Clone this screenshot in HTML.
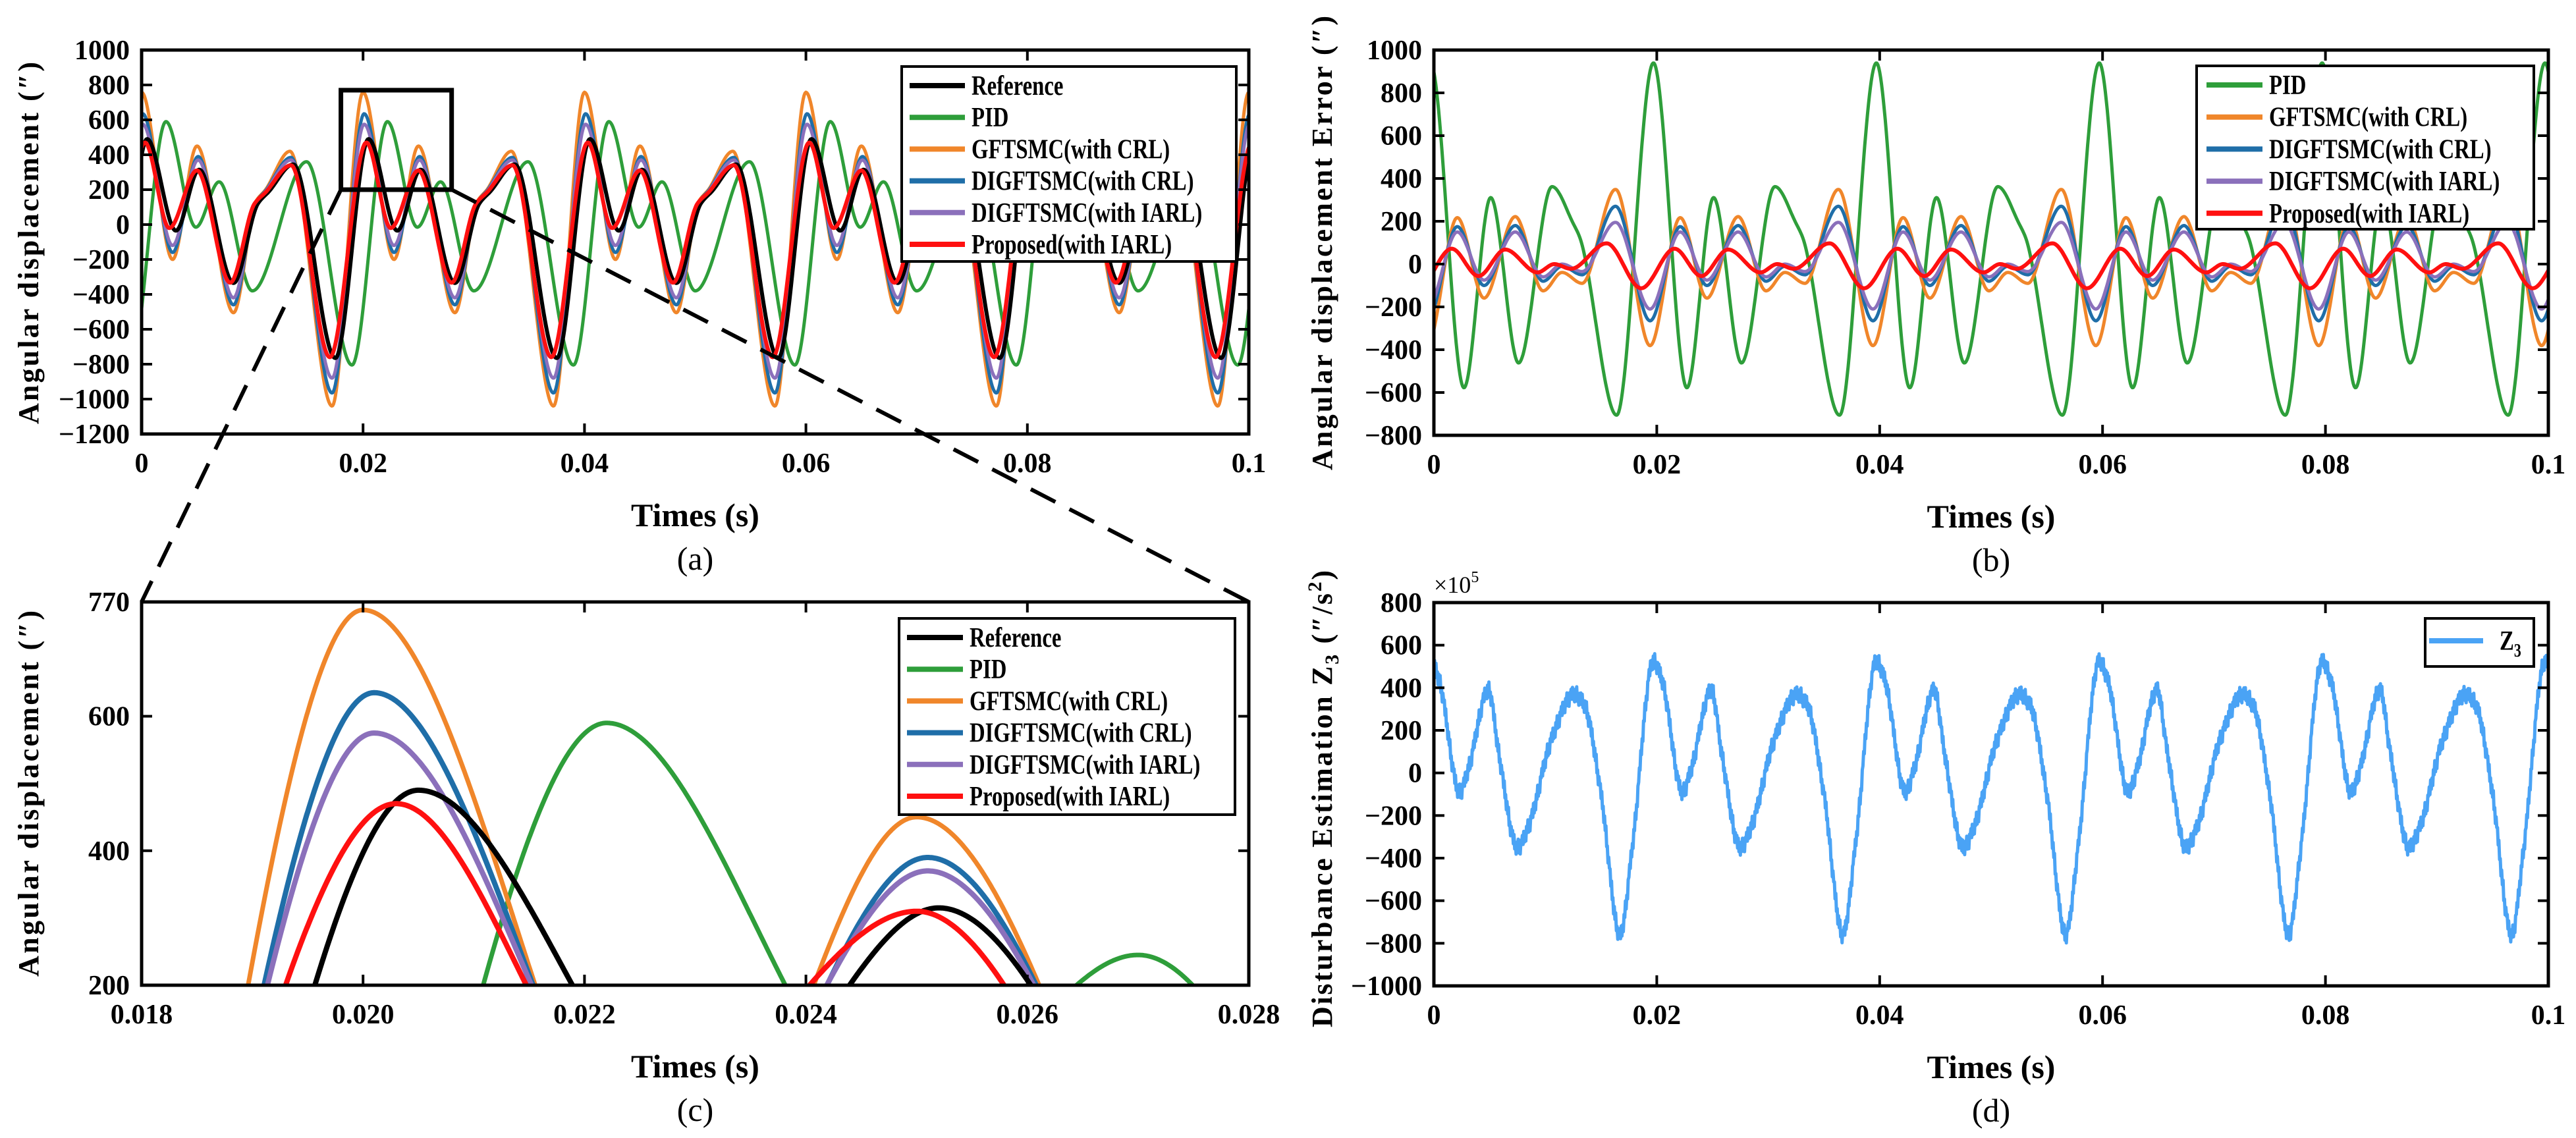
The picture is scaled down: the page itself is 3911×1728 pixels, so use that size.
<!DOCTYPE html>
<html><head><meta charset="utf-8"><style>
html,body{margin:0;padding:0;background:#fff;width:3911px;height:1728px;overflow:hidden;}
svg{display:block;}
text{font-family:"Liberation Serif",serif;}
</style></head><body>
<svg id="fig" width="3911" height="1728" viewBox="0 0 3911 1728" xmlns="http://www.w3.org/2000/svg">
<rect width="3911" height="1728" fill="#fff"/>
</svg>
<script>
// ---------- data (one period of 0.02 s, knots) ----------
const periods = [-0.04,-0.02,0,0.02,0.04,0.06,0.08,0.1,0.12];
// panel (a)/(c) angular displacement
const refT = [0.0005,0.0031,0.0052,0.0083,0.0105,0.0115,0.0137,0.0175];
const refV = [490,-35,315,-335,120,190,345,-765];
const pidT = [0.0022,0.0049,0.0070,0.0100,0.0149,0.0190];
const pidV = [590,-15,245,-380,360,-805];
const gftT = [0.0000,0.0028,0.0050,0.0083,0.0103,0.0112,0.0134,0.0172];
const gftV = [758,-200,450,-505,130,200,420,-1040];
const digT = [0.0001,0.0028,0.0051,0.0083,0.0103,0.0112,0.0135,0.0172];
const digV = [635,-160,390,-460,125,195,385,-965];
const diaT = [0.0001,0.0028,0.0051,0.0083,0.0103,0.0112,0.0135,0.0172];
const diaV = [575,-120,370,-420,120,190,370,-880];
const proT = [0.0003,0.0025,0.0050,0.0080,0.0102,0.0112,0.0135,0.0170];
const proV = [470,-20,310,-333,120,185,340,-760];
// panel (b) errors
const ePidT = [0.0027,0.0051,0.0076,0.0106,0.0125,0.0131,0.0164,0.0197];
const ePidV = [-578,311,-462,362,190,123,-706,940];
const eGftT = [0.0021,0.0045,0.0073,0.0098,0.0115,0.0133,0.0163,0.0194];
const eGftV = [217,-159,222,-125,-39,-90,349,-381];
const eDigT = [0.0021,0.0045,0.0073,0.0098,0.0115,0.0133,0.0163,0.0194];
const eDigV = [175,-100,180,-80,-10,-50,270,-265];
const eDiaT = [0.0021,0.0045,0.0073,0.0098,0.0115,0.0133,0.0163,0.0194];
const eDiaV = [150,-75,150,-60,0,-35,195,-210];
const eProT = [0.0016,0.0040,0.0064,0.0093,0.0108,0.0123,0.0155,0.0186];
const eProV = [72,-56,68,-39,0,-22,97,-113];
// panel (d) disturbance estimate (x1e5)
const zT = [0.0005,0.0023,0.0031,0.0049,0.0058,0.0075,0.0085,0.0105,0.0126,0.0135,0.0150,0.0167,0.0178,0.0197];
const zV = [430,-90,20,390,100,-350,-250,150,370,320,-100,-760,-350,525];
const zRipple = [0,30,-20,34,-24,14,-36,24,-14,38,-28,8,-40,20];
// ticks
const xTicksMain = [0,0.02,0.04,0.06,0.08,0.1];
const xTickLabelsMain = ["0","0.02","0.04","0.06","0.08","0.1"];
const yTicksA = [1000,800,600,400,200,0,-200,-400,-600,-800,-1000,-1200];
const yTicksB = [1000,800,600,400,200,0,-200,-400,-600,-800];
const yTicksD = [800,600,400,200,0,-200,-400,-600,-800,-1000];
const xTicksC = [0.018,0.020,0.022,0.024,0.026,0.028];
const xTickLabelsC = ["0.018","0.020","0.022","0.024","0.026","0.028"];
const yTicksC = [200,400,600,770];

// ---------- helpers ----------
const NS = "http://www.w3.org/2000/svg";
const svg = document.getElementById("fig");
function el(tag, attrs, parent){
  const e = document.createElementNS(NS, tag);
  for (const k in attrs) e.setAttribute(k, attrs[k]);
  (parent||svg).appendChild(e); return e;
}
function expand(ts, vs){
  const pts = [];
  periods.forEach(p => ts.forEach((t,i) => pts.push([t+p, vs[i]])));
  pts.sort((a,b)=>a[0]-b[0]);
  return pts;
}
function pchip(pts){
  const n = pts.length, d = new Array(n).fill(0);
  const h = [], s = [];
  for (let i=0;i<n-1;i++){ h[i]=pts[i+1][0]-pts[i][0]; s[i]=(pts[i+1][1]-pts[i][1])/h[i]; }
  for (let i=1;i<n-1;i++){
    if (s[i-1]*s[i] <= 0) d[i]=0;
    else { const w1=2*h[i]+h[i-1], w2=h[i]+2*h[i-1]; d[i]=(w1+w2)/(w1/s[i-1]+w2/s[i]); }
  }
  return function(t){
    let i=0; while(i<n-2 && pts[i+1][0]<t) i++;
    const x0=pts[i][0], hh=h[i], u=(t-x0)/hh;
    const h00=2*u*u*u-3*u*u+1, h10=u*u*u-2*u*u+u, h01=-2*u*u*u+3*u*u, h11=u*u*u-u*u;
    return h00*pts[i][1]+h10*hh*d[i]+h01*pts[i+1][1]+h11*hh*d[i+1];
  };
}
function makeAxes(o){
  const sx = v => o.x0 + (v-o.xmin)/(o.xmax-o.xmin)*(o.x1-o.x0);
  const sy = v => o.y1 - (v-o.ymin)/(o.ymax-o.ymin)*(o.y1-o.y0);
  const g = el("g", {});
  
  
  const cid = o.name + "-clip";
  const cp = el("clipPath", {id:cid}, g);
  el("rect", {x:o.x0, y:o.y0, width:o.x1-o.x0, height:o.y1-o.y0}, cp);
  const plot = el("g", {"clip-path":"url(#"+cid+")"}, g);
  return {sx, sy, g, plot, o};
}
function finishAxes(ax){
  const o = ax.o, g = ax.g;
  o.xticks.forEach((v,i) => {
    const x = ax.sx(v);
    el("line",{x1:x,y1:o.y1,x2:x,y2:o.y1-16,stroke:"#000","stroke-width":4},g);
    el("line",{x1:x,y1:o.y0,x2:x,y2:o.y0+16,stroke:"#000","stroke-width":4},g);
    const t = el("text",{x:x,y:o.y1+58,"text-anchor":"middle","font-size":42,"font-weight":"bold"},g);
    t.textContent = o.xlabels[i];
    
    
  });
  o.yticks.forEach(v => {
    const y = ax.sy(v);
    el("line",{x1:o.x0,y1:y,x2:o.x0+16,y2:y,stroke:"#000","stroke-width":4},g);
    el("line",{x1:o.x1,y1:y,x2:o.x1-16,y2:y,stroke:"#000","stroke-width":4},g);
    const t = el("text",{x:o.x0-18,y:y+14,"text-anchor":"end","font-size":42,"font-weight":"bold"},g);
    t.textContent = String(v).replace("-","\u2212");
    
    
  });
  el("rect",{x:o.x0,y:o.y0,width:o.x1-o.x0,height:o.y1-o.y0,fill:"none",stroke:"#000","stroke-width":5},g);
  const xt = el("text",{x:(o.x0+o.x1)/2,y:o.y1+140,"text-anchor":"middle","font-size":50,"font-weight":"bold"},g);
  xt.textContent = "Times (s)";
  
  
  const cap = el("text",{x:(o.x0+o.x1)/2,y:o.y1+206,"text-anchor":"middle","font-size":50},g);
  cap.textContent = o.caption;
  
  
  const yt = el("text",{x:0,y:0,"text-anchor":"middle","font-size":44,"font-weight":"bold",
     transform:"translate("+o.ytx+","+o.yty+") rotate(-90)", textLength:o.ytlen, lengthAdjust:"spacing"},g);
  if (o.ytitleHTML) yt.innerHTML = o.ytitleHTML; else yt.textContent = o.ytitle;
  
  
}
function drawSeries(ax, ts, vs, color, width, name, ripple){
  const f = pchip(expand(ts, vs));
  const o = ax.o; let d = "";
  const n = ripple ? 1600 : 1200;
  const step = (o.xmax-o.xmin)/n;
  const lo = o.ymin - (o.ymax-o.ymin)*0.02, hi = o.ymax + (o.ymax-o.ymin)*0.02;
  let prevIn = false, prev = null, penDown = false;
  for (let i=0;i<=n;i++){
    const t = o.xmin + i*step;
    let v = f(t);
    if (ripple) v += ripple[i % ripple.length];
    const inside = v >= o.ymin && v <= o.ymax;
    const vc = Math.max(lo, Math.min(hi, v));
    const pt = ax.sx(t).toFixed(1) + "," + ax.sy(vc).toFixed(1);
    if (inside || prevIn){
      if (!penDown){ d += "M" + (prev !== null ? prev : pt); penDown = true; }
      d += "L" + pt;
    } else penDown = false;
    prevIn = inside; prev = pt;
  }
  const p = el("path",{d:d,fill:"none",stroke:color,"stroke-width":width,"stroke-linejoin":"round"},ax.plot);
  
  
}
function legend(x0,y0,x1,y1,entries,lx0,lx1,tx,ey0,dy,name){
  const g = el("g",{});
  
  
  el("rect",{x:x0,y:y0,width:x1-x0,height:y1-y0,fill:"#fff",stroke:"#000","stroke-width":4},g);
  entries.forEach((e,i)=>{
    const y = ey0 + i*dy;
    el("line",{x1:lx0,y1:y,x2:lx1,y2:y,stroke:e[1],"stroke-width":8},g);
    const t = el("text",{x:0,y:14,"font-size":42,"font-weight":"bold",transform:"translate("+tx+","+y+") scale(0.78,1)"},g);
    if (e[2]) t.innerHTML = e[2]; else t.textContent = e[0];
    
    
  });
}
const C = {blk:"#000", grn:"#2e9e3a", org:"#f0862a", blu:"#1f6ea8", pur:"#8b70bb", red:"#ff1010", z:"#4aa3f5"};

// ---------- panel (a) ----------
const A = makeAxes({name:"panel-a",x0:215,x1:1896,y0:76,y1:659,xmin:0,xmax:0.1,ymin:-1200,ymax:1000});
drawSeries(A,pidT,pidV,C.grn,5,"series-pid");
drawSeries(A,gftT,gftV,C.org,5,"series-gftsmc-crl");
drawSeries(A,digT,digV,C.blu,5,"series-digftsmc-crl");
drawSeries(A,diaT,diaV,C.pur,5,"series-digftsmc-iarl");
drawSeries(A,refT,refV,C.blk,6,"series-reference");
drawSeries(A,proT,proV,C.red,6,"series-proposed");
Object.assign(A.o,{xticks:xTicksMain,xlabels:xTickLabelsMain,yticks:yTicksA,caption:"(a)",
  ytitle:"Angular displacement (\u2033)",ytx:58,yty:369,ytlen:550});
finishAxes(A);
legend(1369,101,1877,397,[["Reference",C.blk],["PID",C.grn],["GFTSMC(with CRL)",C.org],["DIGFTSMC(with CRL)",C.blu],["DIGFTSMC(with IARL)",C.pur],["Proposed(with IARL)",C.red]],1381,1465,1475,130,48.2,"legend-a");

(function(){
  const bx0=A.sx(0.018), bx1=A.sx(0.028), by0=A.sy(770), by1=A.sy(200);
  const r = el("rect",{x:bx0,y:by0,width:bx1-bx0,height:by1-by0,fill:"none",stroke:"#000","stroke-width":7});
  
  
  const l1 = el("line",{x1:bx0,y1:by1,x2:215,y2:914,stroke:"#000","stroke-width":6,"stroke-dasharray":"42 24"});
  
  
  const l2 = el("line",{x1:bx1,y1:by1,x2:1896,y2:914,stroke:"#000","stroke-width":6,"stroke-dasharray":"42 24"});
  
  
})();

// ---------- panel (b) ----------
const B = makeAxes({name:"panel-b",x0:2177,x1:3869,y0:76,y1:661,xmin:0,xmax:0.1,ymin:-800,ymax:1000});
drawSeries(B,ePidT,ePidV,C.grn,5,"series-pid-error");
drawSeries(B,eGftT,eGftV,C.org,5,"series-gftsmc-crl-error");
drawSeries(B,eDigT,eDigV,C.blu,5,"series-digftsmc-crl-error");
drawSeries(B,eDiaT,eDiaV,C.pur,5,"series-digftsmc-iarl-error");
drawSeries(B,eProT,eProV,C.red,6,"series-proposed-error");
Object.assign(B.o,{xticks:xTicksMain,xlabels:xTickLabelsMain,yticks:yTicksB,caption:"(b)",
  ytitle:"Angular displacement Error (\u2033)",ytx:2022,yty:369,ytlen:690});
finishAxes(B);
legend(3335,100,3847,348,[["PID",C.grn],["GFTSMC(with CRL)",C.org],["DIGFTSMC(with CRL)",C.blu],["DIGFTSMC(with IARL)",C.pur],["Proposed(with IARL)",C.red]],3350,3435,3445,129,48.7,"legend-b");

// ---------- panel (c) ----------
const Cc = makeAxes({name:"panel-c",x0:215,x1:1896,y0:914,y1:1496,xmin:0.018,xmax:0.028,ymin:200,ymax:770});
drawSeries(Cc,pidT,pidV,C.grn,7,"zoom-series-pid");
drawSeries(Cc,gftT,gftV,C.org,7,"zoom-series-gftsmc-crl");
drawSeries(Cc,digT,digV,C.blu,8,"zoom-series-digftsmc-crl");
drawSeries(Cc,diaT,diaV,C.pur,8,"zoom-series-digftsmc-iarl");
drawSeries(Cc,refT,refV,C.blk,8,"zoom-series-reference");
drawSeries(Cc,proT,proV,C.red,8,"zoom-series-proposed");
Object.assign(Cc.o,{xticks:xTicksC,xlabels:xTickLabelsC,yticks:yTicksC,caption:"(c)",
  ytitle:"Angular displacement (\u2033)",ytx:58,yty:1205,ytlen:556});
finishAxes(Cc);
legend(1365,939,1875,1237,[["Reference",C.blk],["PID",C.grn],["GFTSMC(with CRL)",C.org],["DIGFTSMC(with CRL)",C.blu],["DIGFTSMC(with IARL)",C.pur],["Proposed(with IARL)",C.red]],1377,1462,1472,968,48.2,"legend-c");

// ---------- panel (d) ----------
const D = makeAxes({name:"panel-d",x0:2177,x1:3869,y0:915,y1:1497,xmin:0,xmax:0.1,ymin:-1000,ymax:800});
drawSeries(D,zT,zV,C.z,5,"series-z3",zRipple);
Object.assign(D.o,{xticks:xTicksMain,xlabels:xTickLabelsMain,yticks:yTicksD,caption:"(d)",
  ytitleHTML:"Disturbance Estimation Z<tspan font-size='30' dy='10'>3</tspan><tspan dy='-10'> (\u2033/s</tspan><tspan font-size='30' dy='-16'>2</tspan><tspan dy='16'>)</tspan>",ytx:2022,yty:1213,ytlen:694});
finishAxes(D);
legend(3682,939,3847,1012,[["Z3",C.z,"Z<tspan font-size='28' dy='10'>3</tspan>"]],3688,3770,3795,973,0,"legend-d");
(function(){
  const t = el("text",{x:2177,y:900,"font-size":36},svg);
  t.innerHTML = "\u00d710<tspan font-size='24' dy='-16'>5</tspan>";
  
  
})();
</script>
</body></html>
